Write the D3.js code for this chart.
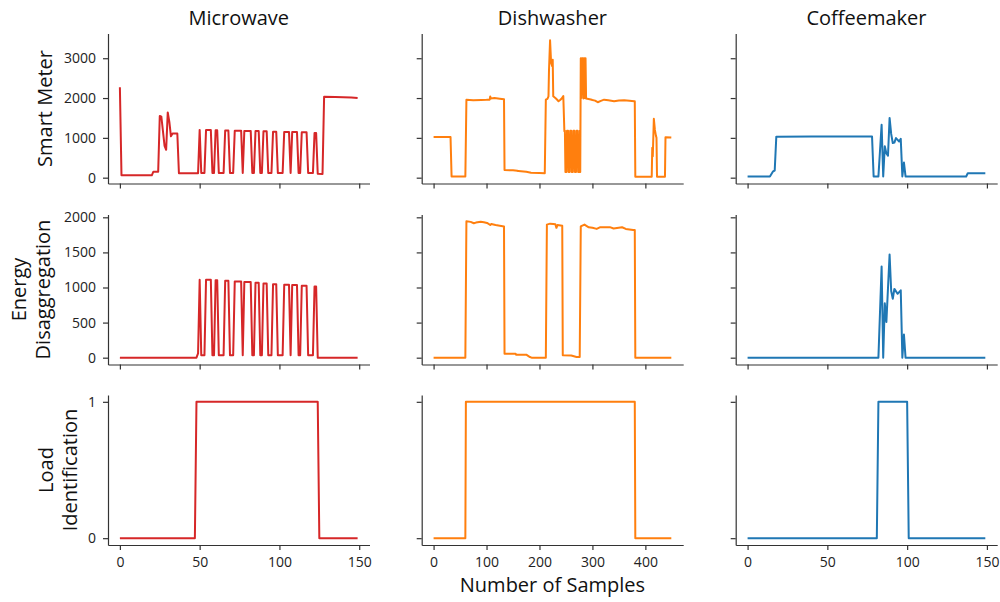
<!DOCTYPE html>
<html>
<head>
<meta charset="utf-8">
<script src="https://cdn.jsdelivr.net/npm/d3@7"></script>
<style>
  html, body { margin: 0; padding: 0; background: #fff; }
  svg { display: block; }
  text { font-family: "Open Sans", "Noto Sans", sans-serif; }
</style>
</head>
<body>
<svg id="chart" width="1000" height="602"></svg>
<script>
// ---------- categories / labels ----------
const appliances = ["Microwave", "Dishwasher", "Coffeemaker"];
const rowLabels = [["Smart Meter"], ["Energy", "Disaggregation"], ["Load", "Identification"]];
const xLabel = "Number of Samples";
const colors = ["#d62728", "#ff7f0e", "#1f77b4"];

// ---------- tick labels ----------
const xTicksMicrowave = [0, 50, 100, 150];
const xTicksDishwasher = [0, 100, 200, 300, 400];
const xTicksCoffee = [0, 50, 100, 150];
const yTicksSmart = [0, 1000, 2000, 3000];
const yTicksDisagg = [0, 500, 1000, 1500, 2000];
const yTicksLoad = [0, 1];

// ---------- Microwave ----------
const mwSmartX = [0, 1, 20, 21, 24, 25, 26, 28, 29, 30, 31, 32, 33, 36, 37, 49, 50, 51, 53, 54, 57, 58, 59, 60, 61, 62, 65, 66, 68, 69, 71, 72, 76, 77, 78, 82, 83, 84, 85, 87, 88, 89, 90, 92, 93, 95, 96, 98, 99, 102, 103, 106, 107, 108, 111, 112, 113, 114, 117, 118, 121, 122, 123, 124, 127, 128, 135, 145, 149];
const mwSmartY = [2270, 60, 60, 150, 150, 1550, 1530, 800, 700, 1640, 1400, 1040, 1110, 1110, 110, 110, 1200, 120, 120, 1195, 1195, 120, 120, 1190, 1190, 120, 120, 1185, 1185, 120, 120, 1180, 1180, 120, 1175, 1175, 120, 120, 1170, 1170, 120, 120, 1165, 1165, 120, 120, 1155, 1155, 120, 120, 1150, 1150, 120, 1145, 1145, 120, 120, 1140, 1140, 120, 120, 1120, 1120, 100, 95, 2030, 2025, 2015, 2000];
const mwDisX = [0, 48, 49, 50, 51, 53, 54, 57, 58, 59, 60, 61, 62, 65, 66, 68, 69, 71, 72, 76, 77, 78, 82, 83, 84, 85, 87, 88, 89, 90, 92, 93, 95, 96, 98, 99, 102, 103, 106, 107, 108, 111, 112, 113, 114, 117, 118, 121, 122, 123, 124, 149];
const mwDisY = [0, 0, 60, 1110, 34, 34, 1110, 1110, 34, 34, 1105, 1105, 34, 34, 1097, 1097, 34, 34, 1087, 1087, 34, 1077, 1077, 34, 34, 1068, 1068, 34, 34, 1058, 1058, 34, 34, 1048, 1048, 34, 34, 1038, 1038, 34, 1034, 1034, 34, 34, 1024, 1024, 34, 34, 1014, 1014, 0, 0];
const mwLoadX = [0, 47, 48, 124, 125, 149];
const mwLoadY = [0, 0, 1, 1, 0, 0];

// ---------- Dishwasher ----------
const dwSmartX = [0, 32, 34, 60, 62, 75, 90, 100, 106, 107, 108, 115, 125, 133, 134, 150, 158, 160, 175, 184, 200, 210, 212, 215, 217, 218, 220, 222, 224, 225, 226, 230, 233, 236, 239, 242, 245, 247,
  248, 249, 251, 252, 254, 255, 257, 258, 260, 261, 263, 264, 266, 267, 269, 270, 272, 273, 275, 276, 277,
  278, 279, 280, 282, 283, 284, 285, 286, 287, 288, 297, 300, 305, 310, 316, 322, 330, 341, 350, 360, 370, 379, 380, 381,
  412, 413, 414, 416, 418, 420, 421, 422, 437, 438, 449];
const dwSmartY = [1020, 1020, 30, 30, 1955, 1945, 1950, 1955, 1960, 2040, 1990, 2000, 1985, 1970, 190, 185, 175, 165, 150, 125, 115, 110, 1960, 1980, 2045, 2710, 3450, 2880, 2800, 2965, 2045, 2000, 1963, 1920, 1950, 1990, 2050, 1170,
  1180, 140, 140, 1180, 1180, 140, 140, 1180, 1180, 140, 140, 1180, 1180, 140, 140, 1180, 1180, 140, 140, 1180, 140,
  3000, 2000, 3000, 3000, 1990, 3000, 3000, 2000, 3000, 1990, 1963, 1950, 1935, 1895, 1930, 1960, 1945, 1920, 1940, 1945, 1935, 1920, 1920, 25,
  25, 750, 540, 1480, 1200, 1050, 1000, 25, 25, 1015, 1010];
const dwDisX = [0, 60, 62, 70, 76, 80, 89, 95, 101, 107, 109, 117, 125, 133, 134, 155, 156, 175, 182, 185, 212, 214, 220, 226, 230, 232, 234, 243, 244, 260, 270, 276, 278, 285, 293, 300, 308, 315, 333, 340, 356, 363, 377, 380, 381, 449];
const dwDisY = [0, 0, 1943, 1935, 1915, 1925, 1938, 1930, 1920, 1890, 1905, 1890, 1880, 1870, 57, 57, 43, 43, 9, 0, 0, 1896, 1910, 1905, 1900, 1850, 1890, 1880, 34, 30, 10, 10, 1870, 1896, 1858, 1850, 1835, 1860, 1860, 1840, 1858, 1835, 1820, 1820, 0, 0];
const dwLoadX = [0, 60, 61, 380, 381, 449];
const dwLoadY = [0, 0, 1, 1, 0, 0];

// ---------- Coffeemaker ----------
const cfSmartX = [0, 14, 16, 17, 18, 40, 78, 79, 82, 84, 85, 86, 87, 88, 89, 90, 91, 92, 93, 95, 96, 97, 98, 99, 137, 138, 149];
const cfSmartY = [30, 30, 160, 180, 1030, 1035, 1035, 30, 30, 1330, 30, 790, 610, 550, 1500, 1100, 870, 880, 995, 910, 975, 30, 380, 30, 30, 110, 110];
const cfDisX = [0, 82, 84, 85, 86, 87, 89, 90, 91, 92, 94, 96, 97, 98, 99, 149];
const cfDisY = [0, 0, 1300, 0, 775, 510, 1470, 950, 840, 980, 910, 960, 0, 330, 0, 0];
const cfLoadX = [0, 81, 82, 100, 101, 149];
const cfLoadY = [0, 0, 1, 1, 0, 0];

// ---------- assemble ----------
const seriesGrid = [
  [[mwSmartX, mwSmartY], [dwSmartX, dwSmartY], [cfSmartX, cfSmartY]],
  [[mwDisX, mwDisY], [dwDisX, dwDisY], [cfDisX, cfDisY]],
  [[mwLoadX, mwLoadY], [dwLoadX, dwLoadY], [cfLoadX, cfLoadY]]
];
const xTicksByCol = [xTicksMicrowave, xTicksDishwasher, xTicksCoffee];
const yTicksByRow = [yTicksSmart, yTicksDisagg, yTicksLoad];

const svg = d3.select("#chart");
const colLeft = [108, 421.7, 735.7];
const axW = 261.5;
const rowTop = [33.5, 214.5, 395];
const axH = 150;

function padded(ext) {
  const r = ext[1] - ext[0];
  return [ext[0] - 0.05 * r, ext[1] + 0.05 * r];
}

const xScales = appliances.map((_, c) => {
  const all = [];
  for (let r = 0; r < 3; r++) all.push(...seriesGrid[r][c][0]);
  return d3.scaleLinear().domain(padded(d3.extent(all))).range([colLeft[c], colLeft[c] + axW]);
});
const yScales = rowLabels.map((_, r) => {
  const all = [];
  for (let c = 0; c < 3; c++) all.push(...seriesGrid[r][c][1]);
  return d3.scaleLinear().domain(padded(d3.extent(all))).range([rowTop[r] + axH, rowTop[r]]);
});

for (let r = 0; r < 3; r++) {
  for (let c = 0; c < 3; c++) {
    const x = xScales[c], y = yScales[r];
    const g = svg.append("g");
    const [xs, ys] = seriesGrid[r][c];
    const pts = xs.map((v, i) => [v, ys[i]]);
    g.append("path")
      .datum(pts)
      .attr("fill", "none")
      .attr("stroke", colors[c])
      .attr("stroke-width", 2)
      .attr("stroke-linejoin", "round")
      .attr("d", d3.line().x(d => x(d[0])).y(d => y(d[1])));

    const xa = d3.axisBottom(x).tickValues(xTicksByCol[c]).tickSize(5).tickSizeOuter(0).tickPadding(7)
      .tickFormat(r === 2 ? d3.format("d") : () => "");
    const gx = g.append("g").attr("transform", `translate(0,${rowTop[r] + axH})`).call(xa);
    const ya = d3.axisLeft(y).tickValues(yTicksByRow[r]).tickSize(5).tickSizeOuter(0).tickPadding(7)
      .tickFormat(c === 0 ? d3.format("d") : () => "");
    const gy = g.append("g").attr("transform", `translate(${colLeft[c]},0)`).call(ya);
    [gx, gy].forEach(a => {
      a.selectAll("path.domain").attr("stroke", "#333").attr("stroke-width", 1.2);
      a.selectAll(".tick line").attr("stroke", "#333").attr("stroke-width", 1.2);
      a.selectAll(".tick text").attr("fill", "#222").style("font-size", "14px")
        .style("font-family", '"Open Sans", sans-serif');
    });
  }
}

// titles
appliances.forEach((t, c) => {
  svg.append("text").attr("x", colLeft[c] + axW / 2).attr("y", 25)
    .attr("text-anchor", "middle").style("font-size", "20px").attr("fill", "#111").text(t);
});

// row labels (rotated)
const labelBaseX = [52, 50, 77];
rowLabels.forEach((lines, r) => {
  const cy = rowTop[r] + axH / 2;
  const t = svg.append("text")
    .attr("transform", `translate(${labelBaseX[r]},${cy}) rotate(-90)`)
    .attr("text-anchor", "middle").style("font-size", "20px").attr("fill", "#111");
  lines.forEach((ln, i) => {
    t.append("tspan").attr("x", 0).attr("y", -(lines.length - 1 - i) * 24).text(ln);
  });
});

// x label
svg.append("text").attr("x", colLeft[1] + axW / 2).attr("y", 592)
  .attr("text-anchor", "middle").style("font-size", "20px").attr("fill", "#111").text(xLabel);
</script>
</body>
</html>
